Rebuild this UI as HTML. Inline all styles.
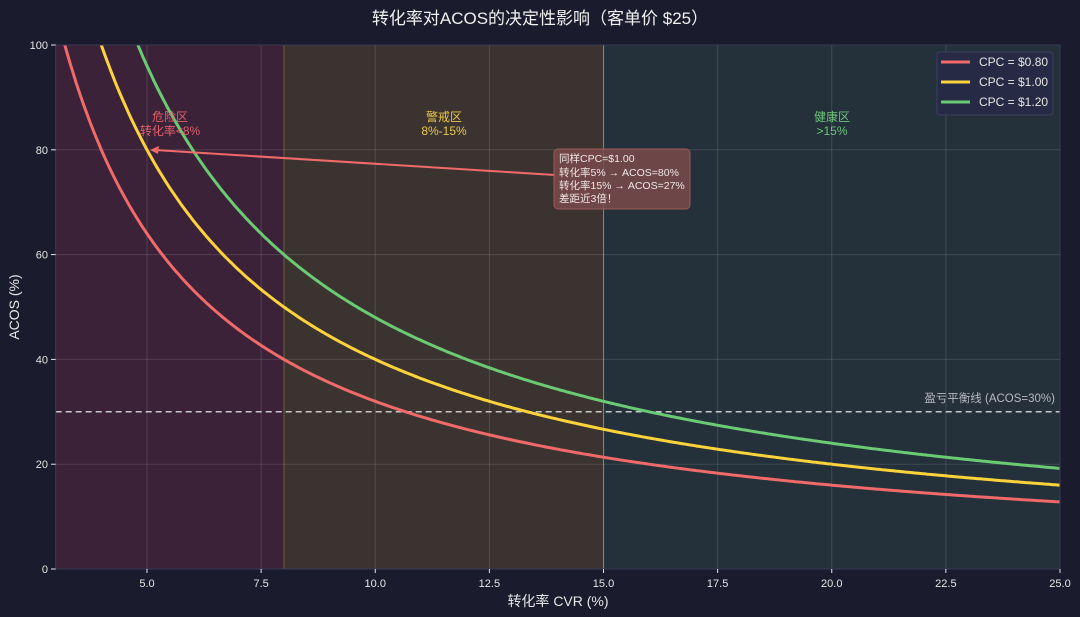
<!DOCTYPE html>
<html><head><meta charset="utf-8"><style>
body{margin:0;background:#1b1b2e;}
svg{display:block;font-family:"Liberation Sans","Noto Sans CJK SC",sans-serif;}
</style></head><body>
<svg id="s" width="1080" height="617" xmlns="http://www.w3.org/2000/svg">
<rect width="1080" height="617" fill="#1b1b2e"/>
<defs><clipPath id="c"><rect x="55.7" y="45" width="1004.3" height="524"/></clipPath></defs>
<rect x="55.7" y="45" width="1004.3" height="524" fill="#222a36"/>
<rect x="55.7" y="45" width="228.3" height="524" fill="#3b2238"/>
<rect x="284" y="45" width="319.6" height="524" fill="#3b3330"/>
<rect x="603.6" y="45" width="456.4" height="524" fill="#24303a"/>
<line x1="284" y1="45" x2="284" y2="569" stroke="#6a6040" stroke-width="1"/>
<line x1="603.6" y1="45" x2="603.6" y2="569" stroke="#7a7a50" stroke-width="1"/>
<g id="grid" stroke="#ffffff" stroke-opacity="0.13" stroke-width="1"></g>
<line x1="55.7" y1="411.8" x2="1060" y2="411.8" stroke="#c8c8c8" stroke-width="1.5" stroke-dasharray="6,4"/>
<g id="curves" clip-path="url(#c)" fill="none" stroke-width="3"></g>
<rect x="55.7" y="45" width="1004.3" height="524" fill="none" stroke="#3a3a55" stroke-width="1"/>
<text x="170" y="121" fill="#e0606a" font-size="12" text-anchor="middle">危险区</text>
<text x="170" y="135" fill="#e0606a" font-size="12" text-anchor="middle">转化率&lt;8%</text>
<text x="444" y="121" fill="#e8c84a" font-size="12" text-anchor="middle">警戒区</text>
<text x="444" y="135" fill="#e8c84a" font-size="12" text-anchor="middle">8%-15%</text>
<text x="832" y="121" fill="#6cc878" font-size="12" text-anchor="middle">健康区</text>
<text x="832" y="135" fill="#6cc878" font-size="12" text-anchor="middle">&gt;15%</text>
<text x="1055" y="402" fill="#b8b8c0" font-size="11.5" text-anchor="end">盈亏平衡线 (ACOS=30%)</text>
<line x1="555" y1="175" x2="155" y2="150" stroke="#f06a6a" stroke-width="2"/>
<path d="M150,150 L159,146 L158,154 Z" fill="#f06a6a"/>
<rect x="554" y="149" width="136" height="60" rx="4" fill="#7a4a4a" fill-opacity="0.85" stroke="#9a5a5a"/>
<g fill="#f0e6e6" font-size="10.5">
<text x="559" y="162">同样CPC=$1.00</text>
<text x="559" y="176">转化率5% → ACOS=80%</text>
<text x="559" y="189">转化率15% → ACOS=27%</text>
<text x="559" y="202">差距近3倍！</text>
</g>
<rect x="937" y="52" width="116" height="63" rx="3" fill="#262a44" stroke="#3c4060"/>
<line x1="941" y1="62" x2="970" y2="62" stroke="#f06a6a" stroke-width="3"/>
<line x1="941" y1="82" x2="970" y2="82" stroke="#fdd33c" stroke-width="3"/>
<line x1="941" y1="102" x2="970" y2="102" stroke="#6acb73" stroke-width="3"/>
<g fill="#e6e6e6" font-size="12"><text x="979" y="66">CPC = $0.80</text><text x="979" y="86">CPC = $1.00</text><text x="979" y="106">CPC = $1.20</text></g>
<g id="ticks" fill="#e6e6e6" font-size="11"></g>
<text x="540" y="24" fill="#f0f0f0" font-size="17" text-anchor="middle">转化率对ACOS的决定性影响（客单价 $25）</text>
<text x="558" y="606" fill="#e6e6e6" font-size="14" text-anchor="middle">转化率 CVR (%)</text>
<text transform="translate(19,307) rotate(-90)" fill="#e6e6e6" font-size="14" text-anchor="middle">ACOS (%)</text>
</svg>
<script>
var NS="http://www.w3.org/2000/svg";
function X(v){return 55.7+(v-3)*45.65;}
function Y(a){return 569-a*5.24;}
function el(p,t,a,txt){var e=document.createElementNS(NS,t);for(var k in a)e.setAttribute(k,a[k]);if(txt!==undefined)e.textContent=txt;p.appendChild(e);return e;}
var g=document.getElementById("grid"),tk=document.getElementById("ticks");
[5,7.5,10,12.5,15,17.5,20,22.5,25].forEach(function(v){el(g,"line",{x1:X(v),y1:45,x2:X(v),y2:569});el(tk,"line",{x1:X(v),y1:569,x2:X(v),y2:573,stroke:"#e6e6e6"});el(tk,"text",{x:X(v),y:587,"text-anchor":"middle"},v.toFixed(1));});
[0,20,40,60,80,100].forEach(function(a){el(g,"line",{x1:55.7,y1:Y(a),x2:1060,y2:Y(a)});el(tk,"line",{x1:51,y1:Y(a),x2:55.7,y2:Y(a),stroke:"#e6e6e6"});el(tk,"text",{x:48,y:Y(a)+4,"text-anchor":"end"},a);});
var cv=document.getElementById("curves");
[[320,"#f06a6a"],[400,"#fdd33c"],[480,"#6acb73"]].forEach(function(c){var d="";for(var i=0;i<=440;i++){var v=3+i*0.05;d+=(i?"L":"M")+X(v).toFixed(1)+","+Y(c[0]/v).toFixed(1);}el(cv,"path",{d:d,stroke:c[1]});});
</script>
</body></html>
